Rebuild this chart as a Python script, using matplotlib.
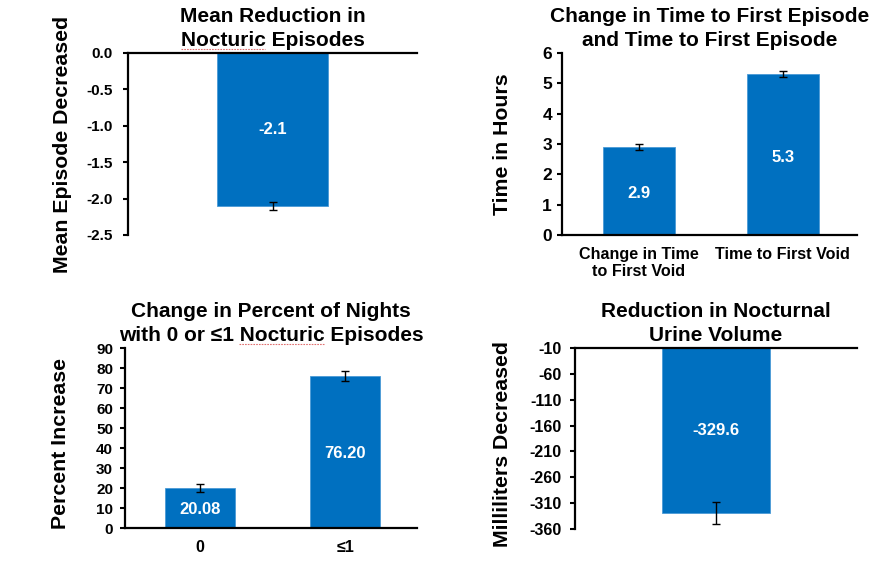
import matplotlib
matplotlib.use("Agg")
import matplotlib.pyplot as plt
from matplotlib.font_manager import FontProperties
from matplotlib.lines import Line2D
import numpy as np

plt.rcParams['font.family'] = ['Liberation Sans', 'DejaVu Sans']
plt.rcParams['font.weight'] = 'bold'
plt.rcParams['axes.unicode_minus'] = False

BLUE = '#0070C0'

# Panel 1
p1_title = "Mean Reduction in\nNocturic Episodes"
p1_ylabel = "Mean Episode Decreased"
p1_values = [-2.1]
p1_err = [0.06]
p1_labels = ["-2.1"]
p1_yticks = [0.0, -0.5, -1.0, -1.5, -2.0, -2.5]

# Panel 2
p2_title = "Change in Time to First Episode\nand Time to First Episode"
p2_ylabel = "Time in Hours"
p2_categories = ["Change in Time\nto First Void", "Time to First Void"]
p2_values = [2.9, 5.3]
p2_err = [0.1, 0.1]
p2_labels = ["2.9", "5.3"]
p2_yticks = [0, 1, 2, 3, 4, 5, 6]

# Panel 3
p3_title = "Change in Percent of Nights\nwith 0 or \u22641 Nocturic Episodes"
p3_ylabel = "Percent Increase"
p3_categories = ["0", "\u22641"]
p3_values = [20.08, 76.20]
p3_err = [2.0, 2.5]
p3_labels = ["20.08", "76.20"]
p3_yticks = [0, 10, 20, 30, 40, 50, 60, 70, 80, 90]

# Panel 4
p4_title = "Reduction in Nocturnal\nUrine Volume"
p4_ylabel = "Milliliters Decreased"
p4_values = [-329.6]
p4_err = [21]
p4_labels = ["-329.6"]
p4_yticks = [-10, -60, -110, -160, -210, -260, -310, -360]

W, H = 891, 562
fig = plt.figure(figsize=(W / 100, H / 100), dpi=100)

TITLE_FS = 15
YLAB_FS = 15.3
VAL_FS = 12


def rect(l, t, r, b):
    return [l / W, 1 - b / H, (r - l) / W, (b - t) / H]


def style(ax, ticksize, pad, top_zero=False):
    ax.spines['right'].set_visible(False)
    if top_zero:
        ax.spines['bottom'].set_visible(False)
        ax.spines['top'].set_visible(True)
    else:
        ax.spines['top'].set_visible(False)
    for s in ax.spines.values():
        s.set_linewidth(1.6)
    ax.tick_params(axis='y', direction='out', length=3.6, width=1.5,
                   labelsize=ticksize, pad=pad)
    ax.tick_params(axis='x', length=0)
    for t in ax.get_yticklabels():
        t.set_fontweight('bold')


def title(ax, txt):
    return ax.set_title(txt, fontsize=TITLE_FS, fontweight='bold', linespacing=1.32, pad=5)


ekw = dict(ecolor='black', elinewidth=1, capsize=3, capthick=1)

# Panel 1
ax1 = fig.add_axes(rect(128, 53, 417, 235))
x1 = np.arange(len(p1_values))
ax1.bar(x1, p1_values, width=0.384, color=BLUE, edgecolor='#4a9ad6', linewidth=0.6,
        yerr=p1_err, error_kw=ekw)
ax1.set_xlim(-0.5, 0.5)
ax1.set_ylim(-2.5, 0)
ax1.set_yticks(p1_yticks)
ax1.set_yticklabels([f"{v:.1f}" for v in p1_yticks])
ax1.set_xticks([])
style(ax1, 11, 7.2, top_zero=True)
t1 = title(ax1, p1_title)
ax1.set_ylabel(p1_ylabel, fontsize=YLAB_FS, fontweight='bold')
ax1.yaxis.set_label_coords(-0.194, 0.5)
for x, v, lab in zip(x1, p1_values, p1_labels):
    ax1.text(x, v / 2, lab, color='white', fontsize=VAL_FS, fontweight='bold',
             ha='center', va='center')

# Panel 2
ax2 = fig.add_axes(rect(562, 53, 857, 235))
x2 = np.arange(len(p2_values))
ax2.bar(x2, p2_values, width=0.5, color=BLUE, edgecolor='#4a9ad6', linewidth=0.6,
        yerr=p2_err, error_kw=ekw)
ax2.set_xlim(-0.535, 1.515)
ax2.set_ylim(0, 6)
ax2.set_yticks(p2_yticks)
ax2.set_xticks(x2)
ax2.set_xticklabels(p2_categories, fontsize=11.6, fontweight='bold', linespacing=1.1)
style(ax2, 12.5, 3.6)
ax2.tick_params(axis='x', pad=9)
title(ax2, p2_title)
ax2.set_ylabel(p2_ylabel, fontsize=YLAB_FS, fontweight='bold')
ax2.yaxis.set_label_coords(-0.169, 0.5)
for x, v, lab in zip(x2, p2_values, p2_labels):
    ax2.text(x, v / 2 - 0.08, lab, color='white', fontsize=VAL_FS, fontweight='bold',
             ha='center', va='center')

# Panel 3
ax3 = fig.add_axes(rect(125, 348, 417, 528))
x3 = np.arange(len(p3_values))
ax3.bar(x3, p3_values, width=0.48, color=BLUE, edgecolor='#4a9ad6', linewidth=0.6,
        yerr=p3_err, error_kw=ekw)
ax3.set_xlim(-0.518, 1.496)
ax3.set_ylim(0, 90)
ax3.set_yticks(p3_yticks)
ax3.set_xticks(x3)
ax3.set_xticklabels(p3_categories, fontsize=11.6, fontweight='bold')
style(ax3, 11, 5)
ax3.tick_params(axis='x', pad=9)
t3 = title(ax3, p3_title)
ax3.set_ylabel(p3_ylabel, fontsize=YLAB_FS, fontweight='bold')
ax3.yaxis.set_label_coords(-0.188, 0.47)
for x, v, lab in zip(x3, p3_values, p3_labels):
    ax3.text(x, v / 2 - 1, lab, color='white', fontsize=VAL_FS, fontweight='bold',
             ha='center', va='center')

# Panel 4
ax4 = fig.add_axes(rect(575, 348, 857, 529))
x4 = np.arange(len(p4_values))
ax4.bar(x4, p4_values, width=0.38, color=BLUE, edgecolor='#4a9ad6', linewidth=0.6,
        yerr=p4_err, error_kw=ekw)
ax4.set_xlim(-0.5, 0.5)
ax4.set_ylim(-360, -10)
ax4.set_yticks(p4_yticks)
ax4.set_xticks([])
style(ax4, 11.5, 5.8, top_zero=True)
title(ax4, p4_title)
ax4.set_ylabel(p4_ylabel, fontsize=YLAB_FS, fontweight='bold')
ax4.yaxis.set_label_coords(-0.223, 0.47)
top4 = ax4.get_ylim()[1]
for x, v, lab in zip(x4, p4_values, p4_labels):
    ax4.text(x, (v + top4) / 2, lab, color='white', fontsize=VAL_FS, fontweight='bold',
             ha='center', va='center')

# Spell-check style red underline beneath "Nocturic" in two titles
fig.canvas.draw()
renderer = fig.canvas.get_renderer()
prop = FontProperties(family=['Liberation Sans', 'DejaVu Sans'], weight='bold', size=TITLE_FS)


def tw(s):
    w, h, d = renderer.get_text_width_height_descent(s, prop, ismath=False)
    return w


def underline(tobj, line2, prefix, word):
    bb = tobj.get_window_extent(renderer)
    cx = (bb.x0 + bb.x1) / 2
    left = cx - tw(line2) / 2 + (tw(prefix) if prefix else 0)
    right = left + tw(word)
    y = bb.y0 + 1.0
    fig.add_artist(Line2D([left / W, right / W], [y / H, y / H],
                          transform=fig.transFigure, color='#e07070', lw=0.8,
                          linestyle=(0, (1.5, 1))))


underline(t1, "Nocturic Episodes", "", "Nocturic")
underline(t3, "with 0 or \u22641 Nocturic Episodes", "with 0 or \u22641 ", "Nocturic")

fig.savefig('out.png', dpi=100)
